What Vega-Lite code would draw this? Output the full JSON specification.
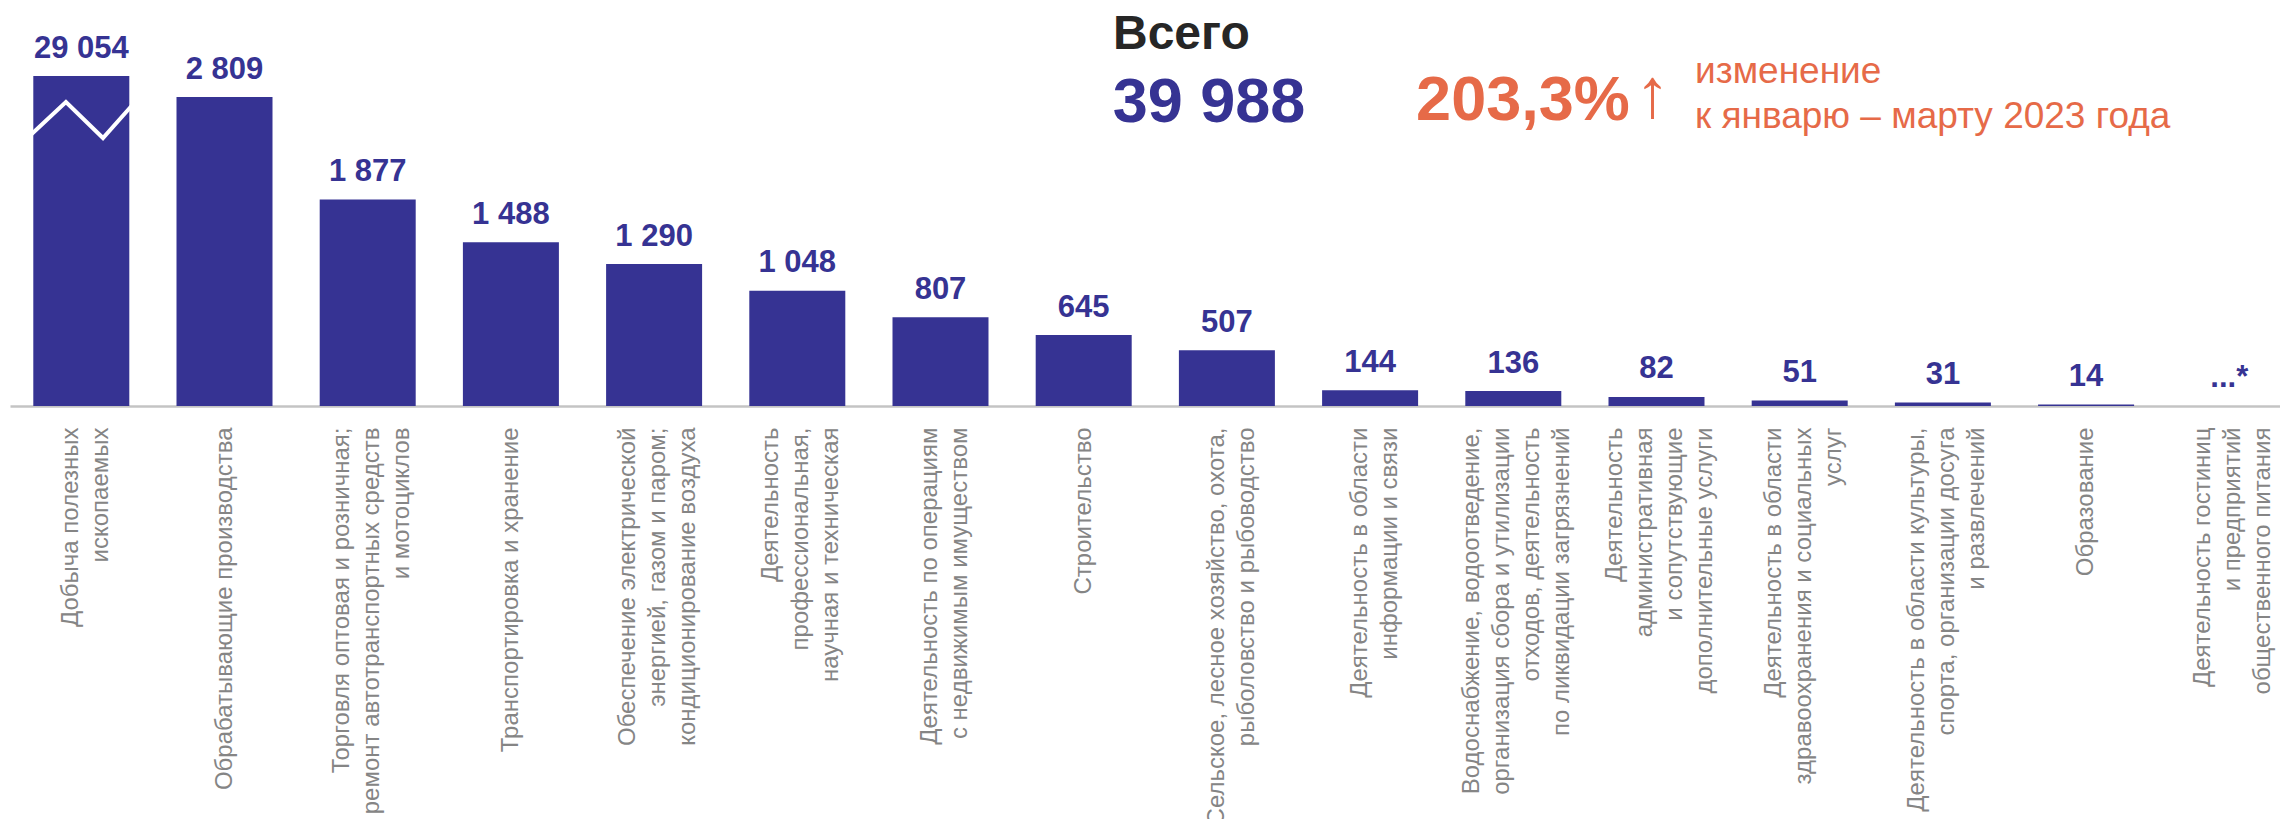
{
  "$schema": "https://vega.github.io/schema/vega-lite/v6.json",
  "width": 2270,
  "height": 330,
  "autosize": {"type": "none"},
  "padding": {"left": 10, "top": 76, "right": 0, "bottom": 413},
  "background": "white",
  "config": {
    "view": {"stroke": null},
    "locale": {"number": {"decimal": ",", "thousands": " ", "grouping": [3], "currency": ["", ""]}},
    "text": {"font": "Liberation Sans"}
  },
  "datasets": {
    "main": [
      {"cat": "Добыча полезных\nископаемых", "value": 29054},
      {"cat": "Обрабатывающие производства", "value": 2809},
      {"cat": "Торговля оптовая и розничная;\nремонт автотранспортных средств\nи мотоциклов", "value": 1877},
      {"cat": "Транспортировка и хранение", "value": 1488},
      {"cat": "Обеспечение электрической\nэнергией, газом и паром;\nкондиционирование воздуха", "value": 1290},
      {"cat": "Деятельность\nпрофессиональная,\nнаучная и техническая", "value": 1048},
      {"cat": "Деятельность по операциям\nс недвижимым имуществом", "value": 807},
      {"cat": "Строительство", "value": 645},
      {"cat": "Сельское, лесное хозяйство, охота,\nрыболовство и рыбоводство", "value": 507},
      {"cat": "Деятельность в области\nинформации и связи", "value": 144},
      {"cat": "Водоснабжение, водоотведение,\nорганизация сбора и утилизации\nотходов, деятельность\nпо ликвидации загрязнений", "value": 136},
      {"cat": "Деятельность\nадминистративная\nи сопутствующие\nдополнительные услуги", "value": 82},
      {"cat": "Деятельность в области\nздравоохранения и социальных\nуслуг", "value": 51},
      {"cat": "Деятельность в области культуры,\nспорта, организации досуга\nи развлечений", "value": 31},
      {"cat": "Образование", "value": 14},
      {"cat": "Деятельность  гостиниц\nи предприятий\nобщественного питания", "value": null, "label": "...*"}
    ],
    "brk": [
      {"t": -0.05, "v": 2445},
      {"t": 0.34, "v": 2764},
      {"t": 0.726, "v": 2436},
      {"t": 1.06, "v": 2764}
    ]
  },
  "resolve": {"scale": {"x": "independent"}},
  "layer": [
    {
      "layer": [
        {
          "data": {"name": "main"},
          "mark": {"type": "bar", "color": "#363393"},
          "encoding": {
            "x": {
              "field": "cat", "type": "nominal", "sort": null,
              "scale": {"paddingInner": 0.3296, "paddingOuter": 0.0908, "align": 0.896},
              "axis": {
                "title": null, "labelAngle": -90, "labelAlign": "right", "labelBaseline": "middle",
                "labelFont": "Liberation Sans", "labelFontSize": 24, "labelColor": "#858585",
                "labelLineHeight": 30, "labelPadding": 21, "labelLimit": 2000, "labelOverlap": false,
                "ticks": false, "tickSize": 0, "grid": false,
                "domainColor": "#c4c4c4", "domainWidth": 2.5,
                "labelExpr": "split(datum.label, '\\n')",
                "labelOffset": {
                  "condition": [
                    {"test": "length(split(datum.value, '\\n')) == 2", "value": -10},
                    {"test": "length(split(datum.value, '\\n')) == 3", "value": -26},
                    {"test": "length(split(datum.value, '\\n')) == 4", "value": -41}
                  ],
                  "value": 0
                }
              }
            },
            "y": {"field": "value", "type": "quantitative", "scale": {"domain": [0, 3000], "clamp": true}, "axis": null}
          }
        },
        {
          "data": {"name": "main"},
          "mark": {"type": "text", "font": "Liberation Sans", "fontWeight": "bold", "fontSize": 31, "color": "#363393", "baseline": "alphabetic", "dy": -18.5},
          "encoding": {
            "x": {"field": "cat", "type": "nominal", "sort": null},
            "y": {"field": "value", "type": "quantitative"},
            "text": {"field": "value", "type": "quantitative", "format": ",d"}
          }
        },
        {
          "data": {"name": "main"},
          "transform": [{"filter": "datum.value == null"}],
          "mark": {"type": "text", "font": "Liberation Sans", "fontWeight": "bold", "fontSize": 31, "color": "#363393", "baseline": "alphabetic", "dy": -19.5},
          "encoding": {
            "x": {"field": "cat", "type": "nominal", "sort": null},
            "y": {"datum": 0},
            "text": {"field": "label", "type": "nominal"}
          }
        },
        {
          "data": {"values": [{}]},
          "mark": {"type": "text", "text": "Всего", "font": "Liberation Sans", "fontWeight": "bold", "fontSize": 48, "color": "#262626", "align": "left", "baseline": "alphabetic", "dx": 29.3, "dy": -27},
          "encoding": {"x": {"datum": "Строительство", "type": "nominal"}, "y": {"datum": 3000}}
        },
        {
          "data": {"values": [{}]},
          "mark": {"type": "text", "text": "39 988", "font": "Liberation Sans", "fontWeight": "bold", "fontSize": 63, "color": "#363393", "align": "left", "baseline": "alphabetic", "dx": 29, "dy": 46},
          "encoding": {"x": {"datum": "Строительство", "type": "nominal"}, "y": {"datum": 3000}}
        },
        {
          "data": {"values": [{}]},
          "mark": {"type": "text", "text": "203,3%", "font": "Liberation Sans", "fontWeight": "bold", "fontSize": 63, "color": "#E66A48", "align": "left", "baseline": "alphabetic", "dx": 46, "dy": 44},
          "encoding": {"x": {"datum": "Деятельность в области\nинформации и связи", "type": "nominal"}, "y": {"datum": 3000}}
        },
        {
          "data": {"values": [{}]},
          "mark": {"type": "text", "text": "↑", "font": "Liberation Sans", "fontWeight": "normal", "fontSize": 70, "color": "#E66A48", "align": "left", "baseline": "alphabetic", "dx": 265, "dy": 41},
          "encoding": {"x": {"datum": "Деятельность в области\nинформации и связи", "type": "nominal"}, "y": {"datum": 3000}}
        },
        {
          "data": {"values": [{}]},
          "mark": {"type": "text", "text": ["изменение", "к январю – марту 2023 года"], "font": "Liberation Sans", "fontWeight": "normal", "fontSize": 37, "lineHeight": 45, "color": "#E66A48", "align": "left", "baseline": "alphabetic", "dx": 38.5, "dy": 7.3},
          "encoding": {"x": {"datum": "Деятельность\nадминистративная\nи сопутствующие\nдополнительные услуги", "type": "nominal"}, "y": {"datum": 3000}}
        }
      ]
    },
    {
      "data": {"name": "brk"},
      "mark": {"type": "line", "color": "white", "strokeWidth": 4, "strokeJoin": "miter"},
      "encoding": {
        "x": {"field": "t", "type": "quantitative", "scale": {"domain": [-0.2427, 23.403], "nice": false, "zero": false}, "axis": null},
        "y": {"field": "v", "type": "quantitative"},
        "order": {"field": "t", "type": "quantitative"}
      }
    }
  ]
}
